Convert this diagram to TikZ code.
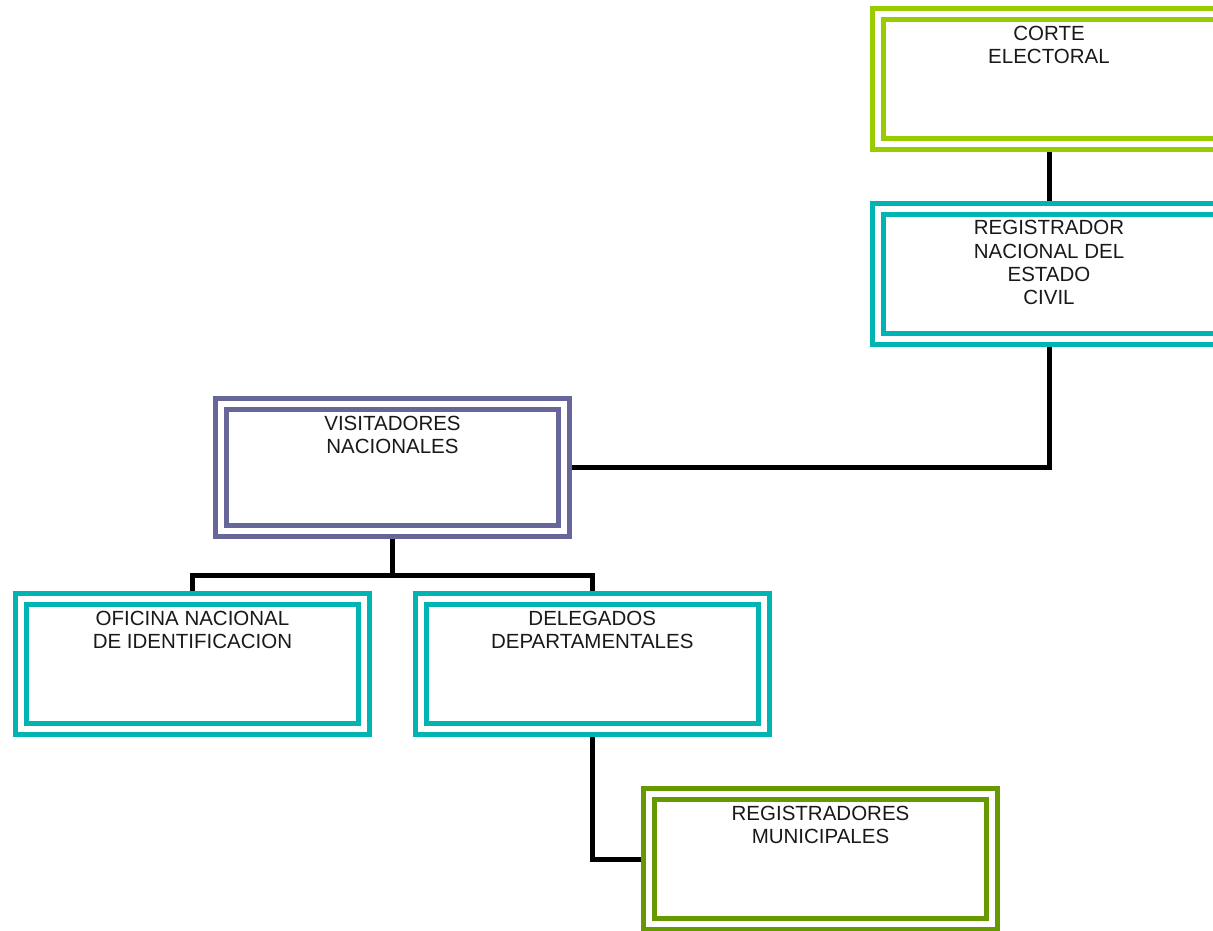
\documentclass[tikz,border=0pt]{standalone}
\usepackage{fontspec}
\setmainfont{Liberation Sans}
\definecolor{limegreen}{HTML}{99CC00}
\definecolor{tealbox}{HTML}{00B4B4}
\definecolor{slatepurple}{HTML}{666699}
\definecolor{olivebox}{HTML}{669900}
\pgfdeclarelayer{paper}
\pgfdeclarelayer{links}
\pgfsetlayers{paper,links,main}
\tikzset{
  unit/.style={draw=#1, line width=5pt, double=white, double distance=6pt,
    rectangle, minimum width=343pt, minimum height=130pt, inner sep=0pt},
  caption/.style={anchor=north, inner sep=0pt, align=center,
    font=\fontsize{20.5}{23.3}\selectfont, text=black!90},
  link/.style={draw=black, line width=5pt}
}
\begin{document}
\begin{tikzpicture}[x=1pt,y=-1pt]
\begin{pgfonlayer}{paper}
  \fill[white] (0,0) rectangle (1213,930);
\end{pgfonlayer}
\useasboundingbox (0,0) rectangle (1213,930);
\clip (0,0) rectangle (1213,930);

% organisational units
\node[unit=limegreen] (corte) at (1049,78.5) {};
\node[unit=tealbox] (regnac) at (1049,273.9) {};
\node[unit=slatepurple, minimum height=127pt] (visit) at (392.5,467.75) {};
\node[unit=tealbox] (onid) at (192.5,664) {};
\node[unit=tealbox] (deleg) at (592.25,664) {};
\node[unit=olivebox] (regmun) at (820.5,859.1) {};

% their names
\node[caption] (corteT) at ([yshift=-14.5pt]corte.north) {CORTE\\ELECTORAL};
\node[caption] (regnacT) at ([yshift=-14pt]regnac.north) {REGISTRADOR\\NACIONAL DEL\\ESTADO\\CIVIL};
\node[caption] (visitT) at ([yshift=-14pt]visit.north) {VISITADORES\\NACIONALES};
\node[caption] (onidT) at ([yshift=-14pt]onid.north) {OFICINA NACIONAL\\DE IDENTIFICACION};
\node[caption] (delegT) at ([yshift=-14pt]deleg.north) {DELEGADOS\\DEPARTAMENTALES};
\node[caption] (regmunT) at ([yshift=-14pt]regmun.north) {REGISTRADORES\\MUNICIPALES};

% reporting lines, kept under the box borders
\coordinate (fork) at (392.5,575);
\begin{pgfonlayer}{links}
  \draw[link] (corte.south) -- (regnac.north);
  \draw[link] (regnac.south) |- (visit.east);
  \draw[link] (visit.south) -- (fork);
  \draw[link] (onid.north) |- (fork) -| (deleg.north);
  \draw[link] (deleg.south) |- (regmun.west);
\end{pgfonlayer}
\end{tikzpicture}
\end{document}
